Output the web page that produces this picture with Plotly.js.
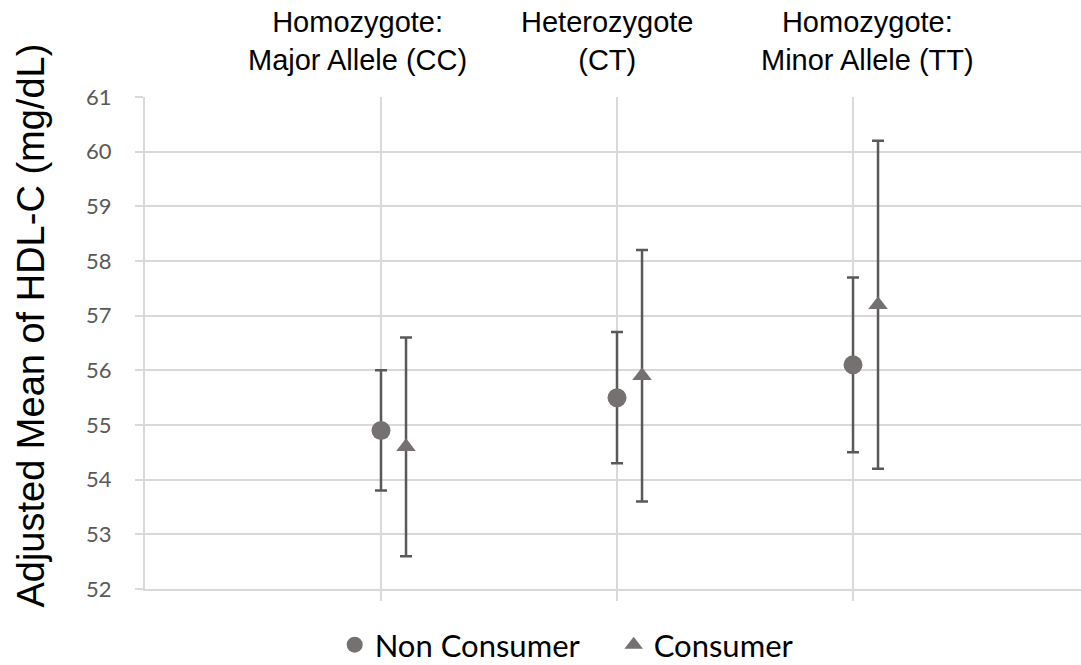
<!DOCTYPE html>
<html><head><meta charset="utf-8">
<script src="https://cdn.plot.ly/plotly-3.0.1.min.js"></script>
<style>html,body{margin:0;padding:0;background:#fff;} #chart{width:1081px;height:665px;}</style>
</head><body><div id="chart"></div>
<script>
// ---- data ----
const categories = ["Homozygote:<br>Major Allele (CC)", "Heterozygote<br>(CT)", "Homozygote:<br>Minor Allele (TT)"];
const seriesNames = ["Non Consumer", "Consumer"];
const nonConsumerMean = [54.9, 55.5, 56.1];
const nonConsumerLow  = [53.8, 54.3, 54.5];
const nonConsumerHigh = [56.0, 56.7, 57.7];
const consumerMean = [54.6, 55.9, 57.2];
const consumerLow  = [52.6, 53.6, 54.2];
const consumerHigh = [56.6, 58.2, 60.2];
const yTickVals = [52, 53, 54, 55, 56, 57, 58, 59, 60, 61];

// ---- style / layout constants ----
const markerColor = '#767171';
const barColor = '#595959';
const gridColor = '#d9d9d9';
const consumerOffset = 0.106;           // horizontal shift of consumer series (axis units)
const labelShift = [-0.10, -0.04, 0.06]; // category label shift (axis units)

const catPos = categories.map((c, i) => i + 1);

function errTrace(name, xs, mean, low, high, symbol, size) {
  return {
    type: 'scatter', mode: 'markers', name: name,
    x: xs, y: mean,
    marker: {symbol: symbol, size: size, color: markerColor},
    error_y: {type: 'data', symmetric: false,
      array: high.map((h, i) => +(h - mean[i]).toFixed(3)),
      arrayminus: low.map((l, i) => +(mean[i] - l).toFixed(3)),
      color: barColor, thickness: 2.5, width: 6},
    hoverinfo: 'x+y'
  };
}

const traces = [
  errTrace(seriesNames[0], catPos, nonConsumerMean, nonConsumerLow, nonConsumerHigh, 'circle', 19),
  errTrace(seriesNames[1], catPos.map(p => p + consumerOffset), consumerMean, consumerLow, consumerHigh, 'triangle-up', 17)
];

const annotations = categories.map((c, i) => ({
  text: c, x: catPos[i] + labelShift[i], xref: 'x', y: 1.19, yref: 'paper',
  xanchor: 'center', yanchor: 'top', showarrow: false, align: 'center',
  font: {family: 'Liberation Sans, Arial, sans-serif', size: 29, color: '#000'}
}));
annotations.push({
  text: 'Adjusted Mean of HDL-C (mg/dL)', textangle: -90,
  x: -0.122, xref: 'paper', y: 0.535, yref: 'paper',
  xanchor: 'center', yanchor: 'middle', showarrow: false,
  font: {family: 'Liberation Sans, Arial, sans-serif', size: 38, color: '#000'}
});

const layout = {
  width: 1081, height: 665,
  margin: {l: 145, r: 0, t: 97, b: 76},
  paper_bgcolor: '#fff', plot_bgcolor: '#fff',
  showlegend: true,
  xaxis: {range: [0, 3.966], tickvals: catPos, ticktext: categories.map(() => ''),
    showgrid: true, gridcolor: gridColor, gridwidth: 2,
    ticks: 'outside', ticklen: 10, tickcolor: gridColor, tickwidth: 2,
    showline: true, linecolor: gridColor, linewidth: 2, zeroline: false, fixedrange: true},
  yaxis: {range: [52, 61], tickvals: yTickVals, showgrid: true, gridcolor: gridColor, gridwidth: 2,
    ticks: 'outside', ticklen: 8, tickcolor: gridColor, tickwidth: 2,
    showline: true, linecolor: gridColor, linewidth: 2, zeroline: false,
    tickfont: {family: 'Lato, sans-serif', size: 22, color: '#595959'},
    ticklabelstandoff: 19, fixedrange: true},
  legend: {orientation: 'h', xref: 'container', yref: 'container',
    x: 0.3096, xanchor: 'left', y: 0.030, yanchor: 'middle', entrywidth: 234,
    font: {family: 'Lato, sans-serif', size: 31, color: '#000'}, bgcolor: 'rgba(0,0,0,0)'},
  annotations: annotations
};

Plotly.newPlot('chart', traces, layout, {displayModeBar: false, staticPlot: true});
</script>
</body></html>
